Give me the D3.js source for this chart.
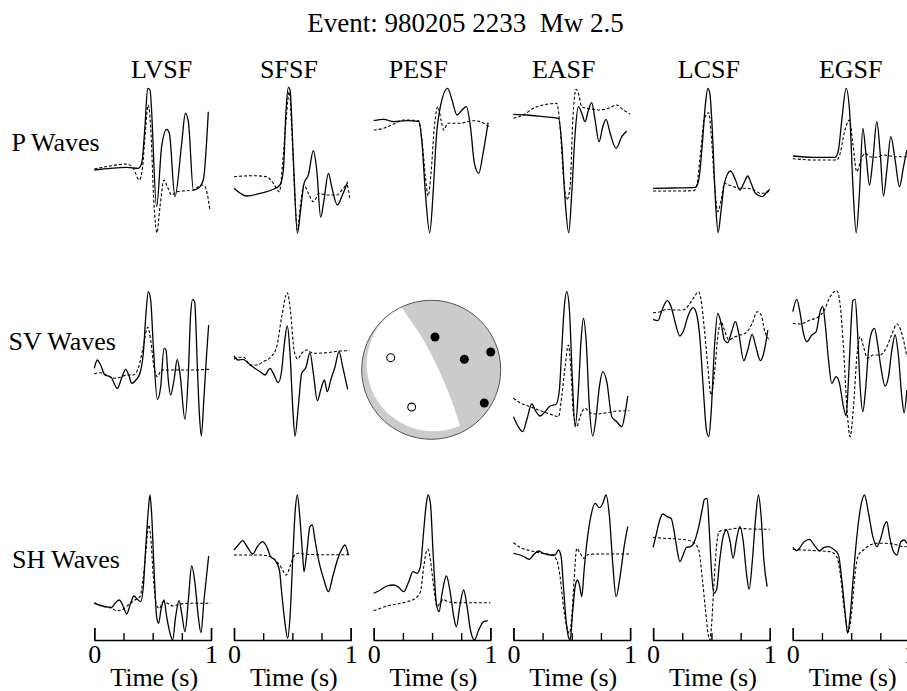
<!DOCTYPE html>
<html><head><meta charset="utf-8">
<script src="https://cdn.jsdelivr.net/npm/d3@7"></script>
<style>
body{margin:0;background:#fff}
text{font-family:"Liberation Serif","Times New Roman",serif;fill:#000}
</style>
</head><body>
<svg id="c" width="907" height="691"></svg>
<script>
// ---------- text ----------
const title = "Event: 980205 2233  Mw 2.5";
const stations = ["LVSF","SFSF","PESF","EASF","LCSF","EGSF"];
const waveRows = ["P Waves","SV Waves","SH Waves"];
const timeTicks = [0,0.25,0.5,0.75,1];
const timeLabel = "Time (s)";

const pairs = (t,a) => t.map((d,i)=>[d,a[i]]);

// ---------- P waves (obs = solid, syn = dashed) ----------
const P_LVSF_obs = pairs([0,0.277,0.377,0.406,0.434,0.457,0.477,0.534,0.577,0.62,0.643,0.691,0.749,0.78,0.806,0.849,0.891,0.934,0.977],
  [-9,-6.3,-7.3,-2.3,34.3,72.7,71,-45.7,14.3,31.7,27.7,-35.7,17.7,47.7,39.3,-29,-27.3,-19,49.3]);
const P_LVSF_syn = pairs([0,0.134,0.277,0.334,0.386,0.414,0.434,0.463,0.483,0.511,0.537,0.563,0.597,0.626,0.663,0.706,0.849,0.92,0.949,0.991],
  [-8,-5,-3,-7.3,-19,-5.7,24.3,56,34.3,-42.3,-71.7,-45.7,-19,-25.7,-34,-30.7,-29,-24,-25.7,-49]);
const P_SFSF_obs = pairs([0,0.109,0.223,0.337,0.394,0.423,0.446,0.466,0.48,0.509,0.543,0.571,0.6,0.637,0.68,0.709,0.743,0.771,0.809,0.837,0.886,0.923,0.974],
  [-27.3,-35,-32.3,-28.3,-24,-9,51,73.7,71,1,-72.3,-49,-22.3,-14,10.3,-9,-56.3,-39,-12.3,-25.7,-44,-35.7,-20.7]);
const P_SFSF_syn = pairs([0,0.166,0.28,0.337,0.389,0.417,0.446,0.474,0.494,0.523,0.543,0.571,0.6,0.637,0.68,0.731,0.794,0.88,0.937,0.966,0.994],
  [-15.7,-14.7,-15.7,-22.3,-30.7,-2.3,41,69.3,34.3,-39,-69,-42.3,-24,-32.3,-40.7,-32.3,-34,-34,-27.3,-24,-39]);
const P_PESF_obs = pairs([0,0.086,0.171,0.286,0.386,0.414,0.443,0.48,0.509,0.537,0.571,0.634,0.671,0.714,0.757,0.794,0.829,0.863,0.9,0.937,0.98],
  [40.3,41.7,39.3,40.3,39.3,17.7,-32.3,-71.7,-32.3,24.3,54.3,72.7,61,46,51,54.3,34.3,-2.3,-12.3,7.7,38.3]);
const P_PESF_syn = pairs([0,0.086,0.171,0.257,0.386,0.414,0.443,0.466,0.491,0.52,0.549,0.577,0.6,0.634,0.686,0.743,0.8,0.857,0.914,0.986],
  [31,32.7,37,41,40.3,21,-15.7,-35,-12.3,34.3,54.3,41,31,37.7,37.7,37.7,39.3,40.3,39.3,34.3]);
const P_EASF_obs = pairs([0,0.114,0.257,0.386,0.414,0.443,0.474,0.5,0.529,0.557,0.586,0.614,0.643,0.671,0.7,0.734,0.766,0.794,0.829,0.88,0.929,0.971],
  [46.7,46,44.3,42.7,17.7,-39,-71.7,-32.3,27.7,54.3,47.7,39.3,51,58.3,41,19.3,34.3,41.7,27.7,12.7,24.3,30]);
const P_EASF_syn = pairs([0,0.086,0.171,0.286,0.371,0.4,0.429,0.457,0.486,0.509,0.537,0.557,0.586,0.629,0.686,0.743,0.814,0.886,0.943,1],
  [42.7,46,52.7,56.7,57.7,34.3,-15.7,-39,-25.7,41,71.7,67.7,54.3,52.7,51.7,51,52.7,56,51,47]);
const P_LCSF_obs = pairs([0,0.177,0.363,0.391,0.42,0.449,0.469,0.486,0.506,0.534,0.557,0.583,0.611,0.663,0.706,0.743,0.777,0.811,0.84,0.877,0.934,0.977,1],
  [-27.3,-27,-26.3,-19,14.3,57.7,72.7,67.7,34.3,-39,-71.7,-49,-22.3,-10,-19,-29,-22.3,-15,-22.3,-32.3,-35.7,-30.7,-28.3]);
const P_LCSF_syn = pairs([0,0.177,0.349,0.377,0.406,0.44,0.477,0.497,0.526,0.554,0.583,0.611,0.649,0.691,0.749,0.806,0.863,0.92,0.963,1],
  [-30,-30,-29.7,-22.3,7.7,42.7,48.3,27.7,-22.3,-50.7,-39,-22.3,-24,-25.7,-27.3,-27.3,-29,-32.3,-32.3,-29]);
const P_EGSF_obs = pairs([0,0.177,0.363,0.391,0.42,0.457,0.486,0.514,0.543,0.571,0.6,0.629,0.657,0.686,0.72,0.749,0.777,0.806,0.84,0.877,0.914,0.949,0.977],
  [5,3.7,3.7,11,41,72.7,51,-22.3,-71.7,-32.3,32.7,4.3,-24,1,39.3,7.7,-35,-9,24.3,1,-25.7,-5.7,11]);
const P_EGSF_syn = pairs([0,0.177,0.377,0.406,0.44,0.486,0.514,0.549,0.583,0.62,0.663,0.72,0.777,0.834,0.891,0.977],
  [2.3,1,1,7.7,27.7,41,17.7,-10.7,1,7.7,4.3,3.7,6,5,4.3,4.3]);

// ---------- SV waves ----------
const SV_LVSF_obs = pairs([0,0.026,0.054,0.091,0.14,0.197,0.234,0.269,0.3,0.32,0.357,0.391,0.42,0.443,0.463,0.483,0.506,0.54,0.569,0.597,0.614,0.634,0.654,0.683,0.711,0.734,0.777,0.806,0.826,0.843,0.86,0.883,0.9,0.917,0.94,0.963,0.98],
  [-4.3,4,-1,-11,-12.7,-24.3,-14.3,-5.3,-12.7,-19.3,-16,-9.3,10.7,50.7,72.3,64,17.3,-35.3,-22.7,15.7,14,-16,-31,-16,4.7,-9.3,-55.3,-9.3,50.7,64.7,62.3,-2.7,-49.3,-72,-32.7,10.7,39]);
const SV_LVSF_syn = pairs([0,0.049,0.106,0.163,0.22,0.277,0.334,0.377,0.42,0.457,0.483,0.511,0.54,0.577,0.62,0.734,0.849,0.991],
  [-10,-8.7,-11,-14.3,-13.3,-11,-11,-4.3,17.3,36.7,24,-2.7,-12.7,-6,-6,-6,-6,-5.3]);
const SV_SFSF_obs = pairs([0,0.037,0.08,0.123,0.166,0.223,0.266,0.309,0.337,0.38,0.409,0.429,0.457,0.48,0.503,0.523,0.551,0.58,0.617,0.651,0.68,0.714,0.743,0.774,0.8,0.829,0.866,0.9,0.931,0.974],
  [8,4,4.7,0.7,-3.3,-7.7,-11,-4.3,-9.3,-18.7,-6,17.3,38,10.7,-42.7,-72,-42.7,-9.3,-3.3,11.3,-9.3,-36.7,-26,-16,-27.7,-16,-2.7,12.3,-2.7,-25.3]);
const SV_SFSF_syn = pairs([0,0.037,0.086,0.137,0.194,0.251,0.323,0.366,0.409,0.457,0.486,0.514,0.546,0.58,0.623,0.68,0.794,0.909,0.989],
  [4.7,6.7,6.7,-1,-1,2.3,8,17.3,47.3,71.3,50.7,14,5,10.7,14,10.7,11.3,13,13.3]);
const SV_EASF_obs = pairs([0,0.034,0.08,0.114,0.157,0.194,0.229,0.271,0.314,0.366,0.394,0.414,0.434,0.457,0.48,0.503,0.529,0.557,0.58,0.6,0.623,0.651,0.68,0.709,0.737,0.766,0.8,0.843,0.886,0.929,0.957,0.98],
  [-52.7,-61,-67.7,-56,-40,-47.7,-52,-47.7,-42,-40.3,-26,14,54,72.3,54,-9.3,-62.7,-26,24,45.7,24,-42.7,-72,-52.7,-22.7,-7.7,-17.7,-52.7,-57.7,-62.7,-49.3,-32]);
const SV_EASF_syn = pairs([0,0.057,0.143,0.229,0.314,0.386,0.414,0.443,0.471,0.491,0.514,0.543,0.571,0.614,0.657,0.714,0.8,0.886,0.994],
  [-34.3,-38.7,-42.7,-46.7,-50,-52.7,-32.7,-2.7,19,-2.7,-49.3,-62.7,-52.7,-44.3,-48.7,-50,-48.7,-47,-46.7]);
const SV_LCSF_obs = pairs([0,0.04,0.077,0.12,0.154,0.191,0.229,0.263,0.297,0.343,0.371,0.4,0.429,0.457,0.477,0.497,0.526,0.554,0.583,0.611,0.64,0.669,0.706,0.734,0.777,0.811,0.849,0.877,0.92,0.954,0.983],
  [44.7,43.3,54,63.3,57.3,40.7,28,34,47.3,56.3,50.7,27.3,-22.7,-66,-72.7,-49.3,17.3,50.7,40.7,24,21.3,30.7,42.3,30.7,3.3,14,29.7,19,3.3,14,34]);
const SV_LCSF_syn = pairs([0,0.063,0.12,0.191,0.257,0.306,0.354,0.389,0.411,0.44,0.469,0.497,0.526,0.554,0.583,0.611,0.649,0.691,0.749,0.806,0.849,0.891,0.926,0.954,0.991],
  [51.3,52.3,54.7,54,54,59,67.3,72.3,64,34,-2.7,-31,-9.3,27.3,42.3,34,24,26.7,29,32.3,40.7,52.3,49,34,24.7]);
const SV_EGSF_obs = pairs([0,0.034,0.063,0.091,0.12,0.163,0.2,0.234,0.257,0.277,0.306,0.334,0.371,0.4,0.434,0.457,0.477,0.497,0.514,0.534,0.554,0.577,0.6,0.623,0.649,0.677,0.7,0.726,0.754,0.791,0.82,0.849,0.877,0.906,0.934,0.954,0.977],
  [52.3,64.7,50.7,30.7,22.3,29,32.3,52.3,57.3,40.7,4,-19.3,-12.7,-19.3,-42.7,-52,-16,34,63.3,64.7,34,-22.7,-47.7,-26,14,32.3,35.7,20.7,-2.7,-22,-12.7,14,29,7.3,-32.7,-48.7,-26]);
const SV_EGSF_syn = pairs([0,0.063,0.149,0.22,0.263,0.32,0.377,0.406,0.434,0.463,0.491,0.52,0.549,0.577,0.606,0.64,0.691,0.749,0.806,0.863,0.891,0.934,0.977],
  [40.7,40,44,47.3,52.3,67.3,73.3,59,17.3,-42.7,-72.7,-42.7,7.3,27.3,17.3,5.7,9,9,17.3,34,40,30.7,7.3]);

// ---------- SH waves ----------
const SH_LVSF_obs = pairs([0,0.077,0.149,0.177,0.214,0.249,0.277,0.311,0.34,0.369,0.397,0.42,0.443,0.463,0.477,0.491,0.511,0.534,0.551,0.571,0.597,0.62,0.649,0.671,0.697,0.726,0.749,0.777,0.806,0.834,0.863,0.891,0.914,0.94,0.98],
  [-35.8,-38.5,-39.8,-35.8,-32.5,-39.2,-46.5,-35.8,-28.5,-31.8,-34.2,-19.2,24.2,57.5,72.5,54.2,0.8,-49.2,-55.8,-42.5,-32.5,-49.2,-65.8,-72.5,-49.2,-33.2,-45.8,-64.2,-32.5,1.5,-15.8,-49.2,-65.2,-32.5,11.5]);
const SH_LVSF_syn = pairs([0,0.077,0.149,0.191,0.234,0.291,0.349,0.391,0.42,0.443,0.466,0.483,0.506,0.529,0.557,0.591,0.626,0.677,0.734,0.82,0.906,0.997],
  [-35.2,-39.2,-40.8,-43.2,-42.5,-37.5,-32.5,-29.2,-9.2,17.5,42.5,30.8,-9.2,-35.8,-40.8,-34.2,-35.8,-38.5,-36.5,-35.8,-35.8,-35.8]);
const SH_SFSF_obs = pairs([0,0.037,0.074,0.109,0.16,0.2,0.246,0.28,0.314,0.351,0.389,0.409,0.437,0.46,0.48,0.503,0.523,0.543,0.566,0.589,0.6,0.623,0.651,0.671,0.694,0.731,0.771,0.809,0.846,0.886,0.923,0.951,0.98],
  [17.5,22.5,26.8,21.5,13.5,20.8,25.8,20.8,10.8,7.5,-2.5,-25.8,-55.8,-70.8,-49.2,7.5,54.2,72.5,47.5,10.8,-4.2,14.2,40.8,42.5,27.5,4.2,-12.5,-24.2,-9.2,7.5,18.2,22.5,12.5]);
const SH_SFSF_syn = pairs([0,0.109,0.223,0.309,0.366,0.409,0.446,0.48,0.509,0.551,0.623,0.737,0.851,0.994],
  [12.5,12.5,12.5,10.8,5.8,-0.8,-7.5,0.8,10.8,14.2,13.2,12.8,12.8,12.8]);
const SH_PESF_obs = pairs([0,0.057,0.114,0.171,0.214,0.257,0.3,0.337,0.371,0.4,0.429,0.451,0.466,0.486,0.509,0.537,0.56,0.586,0.623,0.657,0.686,0.709,0.737,0.771,0.8,0.829,0.863,0.9,0.943,0.977],
  [-25.8,-22.5,-18.5,-17.5,-19.8,-24.2,-14.2,-4.2,-5.8,0.8,37.5,64.2,72.5,64.2,14.2,-35.8,-44.2,-25.8,-8.5,-25.8,-49.2,-59.2,-39.2,-22.5,-39.2,-62.5,-72.5,-62.5,-54.2,-53.2]);
const SH_PESF_syn = pairs([0,0.057,0.114,0.2,0.286,0.357,0.4,0.429,0.451,0.466,0.486,0.514,0.543,0.566,0.594,0.634,0.714,0.829,1],
  [-43.2,-40.8,-38.5,-36.5,-34.2,-30.8,-24.2,0.8,15.8,18.2,7.5,-19.2,-39.2,-35.8,-31.8,-34.2,-35.2,-35.2,-35.2]);
const SH_EASF_obs = pairs([0,0.057,0.1,0.137,0.171,0.214,0.257,0.314,0.357,0.386,0.409,0.429,0.451,0.471,0.486,0.509,0.529,0.549,0.566,0.586,0.606,0.629,0.663,0.7,0.737,0.766,0.794,0.823,0.851,0.88,0.914,0.949,0.98],
  [14.2,12.5,10.2,8.2,12.5,16.5,14.2,12.5,12.5,17.5,10.8,-19.2,-52.5,-69.2,-72.5,-42.5,-19.2,-12.5,-17.5,-29.2,-2.5,24.2,50.8,64.2,59.8,64.2,72.5,50.8,4.2,-29.2,-9.2,20.8,40.8]);
const SH_EASF_syn = pairs([0,0.057,0.143,0.243,0.329,0.371,0.4,0.429,0.457,0.48,0.5,0.52,0.543,0.571,0.606,0.643,0.743,0.857,1],
  [24.8,20.2,16.8,14.2,12.5,7.5,-9.2,-39.2,-59.2,-66,-49.2,-12.5,19.2,14.2,9.2,13.2,13.5,13.5,13.5]);
const SH_LCSF_obs = pairs([0,0.029,0.057,0.083,0.12,0.154,0.183,0.206,0.229,0.257,0.286,0.32,0.354,0.391,0.42,0.44,0.463,0.48,0.5,0.52,0.543,0.571,0.6,0.629,0.657,0.686,0.714,0.743,0.771,0.8,0.823,0.851,0.877,0.903,0.926,0.949,0.977],
  [20.2,34.2,47.5,53.5,50.8,49.2,34.2,17.5,5.8,12.5,20.2,20.8,25.8,40.8,57.5,68.2,69.2,40.8,-2.5,-25.8,-22.5,7.5,30.8,37.5,27.5,9.2,27.5,40.8,27.5,-5.8,-21.8,7.5,47.5,72.5,50.8,7.5,-19.2]);
const SH_LCSF_syn = pairs([0,0.091,0.206,0.291,0.349,0.391,0.42,0.449,0.471,0.486,0.5,0.52,0.543,0.566,0.606,0.657,0.72,0.834,1],
  [30.2,29.2,28.5,27.5,24.8,17.5,-9.2,-42.5,-65.8,-72.5,-59.2,-19.2,20.8,35.8,37.5,38.2,39.2,38.5,38.2]);
const SH_EGSF_obs = pairs([0,0.034,0.063,0.097,0.143,0.183,0.229,0.269,0.306,0.349,0.391,0.42,0.449,0.469,0.491,0.514,0.543,0.577,0.614,0.649,0.686,0.72,0.749,0.791,0.806,0.829,0.857,0.891,0.926,0.954,0.977],
  [20.2,16.8,20.2,25.8,28.2,22.5,16.8,20.2,20.8,18.2,12.5,-12.5,-45.8,-65.8,-49.2,-15.8,24.2,57.5,72.5,54.2,30.8,20.8,27.5,44.2,45.8,30.8,17.5,12.5,25.8,27.5,24.2]);
const SH_EGSF_syn = pairs([0,0.091,0.206,0.32,0.377,0.406,0.434,0.463,0.477,0.506,0.534,0.563,0.606,0.663,0.72,0.777,0.863,0.92,0.977],
  [18.2,17.5,16.8,15.8,10.8,-5.8,-35.8,-59.2,-64.2,-42.5,-5.8,12.5,17.5,22.5,24.2,24.2,23.5,21.5,20.8]);

// ---------- focal mechanism (unit-circle coords, y up) ----------
const nodalCurve = [[-0.47,1.02],[-0.424,0.904],[-0.137,0.472],[0.079,0.065],[0.246,-0.319],[0.367,-0.655],[0.429,-0.871],[0.46,-1.02]];
const compressions = [[0.055,0.472],[0.477,0.151],[0.856,0.256],[0.764,-0.478]];
const dilatations = [[-0.583,0.174],[-0.281,-0.535]];

// grid of traces [row][col] -> [obs, syn]; null = beachball panel
const traceGrid = [
  [[P_LVSF_obs,P_LVSF_syn],[P_SFSF_obs,P_SFSF_syn],[P_PESF_obs,P_PESF_syn],[P_EASF_obs,P_EASF_syn],[P_LCSF_obs,P_LCSF_syn],[P_EGSF_obs,P_EGSF_syn]],
  [[SV_LVSF_obs,SV_LVSF_syn],[SV_SFSF_obs,SV_SFSF_syn],null,[SV_EASF_obs,SV_EASF_syn],[SV_LCSF_obs,SV_LCSF_syn],[SV_EGSF_obs,SV_EGSF_syn]],
  [[SH_LVSF_obs,SH_LVSF_syn],[SH_SFSF_obs,SH_SFSF_syn],[SH_PESF_obs,SH_PESF_syn],[SH_EASF_obs,SH_EASF_syn],[SH_LCSF_obs,SH_LCSF_syn],[SH_EGSF_obs,SH_EGSF_syn]]
];

// ---------- layout ----------
const colStart = 94.3, colStep = 139.7, panelW = 116.7;
const rowCenter = [161, 364, 567.5], halfH = 75;
const labelShift = [9, -3.4, -13.7, -8, -2.5, -0.4];
const rowLabelX = [11.5, 8.5, 12], rowLabelY = [151, 350, 568];
const axisY = 640;
const fs = 26;

const svg = d3.select("#c");

svg.append("text").attr("x",465.5).attr("y",32).attr("text-anchor","middle")
  .style("font-size","27px").style("white-space","pre").text(title);

const xs = stations.map((s,i)=>d3.scaleLinear().domain([0,1]).range([colStart+i*colStep, colStart+i*colStep+panelW]));
const ys = rowCenter.map(c=>d3.scaleLinear().domain([-halfH,halfH]).range([c+halfH, c-halfH]));

stations.forEach((s,i)=>{
  svg.append("text").attr("x", colStart+i*colStep+panelW/2+labelShift[i]).attr("y",78)
    .attr("text-anchor","middle").style("font-size",fs+"px").text(s);
});
waveRows.forEach((r,j)=>{
  svg.append("text").attr("x",rowLabelX[j]).attr("y",rowLabelY[j]).style("font-size",fs+"px").text(r);
});

traceGrid.forEach((row,r)=>{
  row.forEach((pair,c)=>{
    if(!pair) return;
    const line = d3.line().x(d=>xs[c](d[0])).y(d=>ys[r](d[1])).curve(d3.curveMonotoneX);
    svg.append("path").attr("d",line(pair[1])).attr("fill","none").attr("stroke","#000")
      .attr("stroke-width",1.1).attr("stroke-dasharray","3,2");
    svg.append("path").attr("d",line(pair[0])).attr("fill","none").attr("stroke","#000")
      .attr("stroke-width",1.3).attr("stroke-linejoin","round");
  });
});

// axes
xs.forEach((x,i)=>{
  const g = svg.append("g").attr("transform",`translate(0,${axisY})`)
    .call(d3.axisBottom(x).tickValues(timeTicks).tickSize(-7).tickSizeOuter(-12).tickPadding(4.5)
      .tickFormat(d=> (d===0||d===1)? d3.format("d")(d) : ""));
  g.selectAll("path,line").attr("stroke","#000").attr("stroke-width",1.4);
  g.selectAll(".tick").filter(d=>d===0||d===1).select("line").attr("y2",-12);
  g.selectAll("text").style("font-size",fs+"px").attr("fill","#000")
    .style("font-family",'"Liberation Serif","Times New Roman",serif');
  svg.append("text").attr("x", x(0.5)+1.5).attr("y",686).attr("text-anchor","middle")
    .style("font-size",fs+"px").text(timeLabel);
});

// beachball
const bbCx = 431.2, bbCy = 369.8, bbR = 69.5;
const bx = d3.scaleLinear().domain([-1,1]).range([bbCx-bbR, bbCx+bbR]);
const by = d3.scaleLinear().domain([-1,1]).range([bbCy+bbR, bbCy-bbR]);
const defs = svg.append("defs");
defs.append("clipPath").attr("id","outerClip").append("circle")
  .attr("cx",bx(0)).attr("cy",by(0)).attr("r",bx(1)-bx(0));
defs.append("clipPath").attr("id","innerClip").append("circle")
  .attr("cx",bx(0.032)).attr("cy",by(0.075)).attr("r",bx(0.96)-bx(0));
const bb = svg.append("g");
bb.append("circle").attr("cx",bx(0)).attr("cy",by(0)).attr("r",bx(1)-bx(0)).attr("fill","#cbcbcb");
const nodal = d3.line().x(d=>bx(d[0])).y(d=>by(d[1])).curve(d3.curveCatmullRom)(nodalCurve);
const closing = [[0.46,-1.4],[-1.4,-1.4],[-1.4,1.4],[-0.47,1.4]].map(d=>`L${bx(d[0])},${by(d[1])}`).join("");
bb.append("g").attr("clip-path","url(#outerClip)")
  .append("path").attr("clip-path","url(#innerClip)").attr("d",nodal+closing+"Z").attr("fill","#fff");
bb.append("circle").attr("cx",bx(0)).attr("cy",by(0)).attr("r",bx(1)-bx(0))
  .attr("fill","none").attr("stroke","#555").attr("stroke-width",1);
bb.selectAll(".comp").data(compressions).enter().append("circle")
  .attr("cx",d=>bx(d[0])).attr("cy",d=>by(d[1])).attr("r",4.5).attr("fill","#000");
bb.selectAll(".dil").data(dilatations).enter().append("circle")
  .attr("cx",d=>bx(d[0])).attr("cy",d=>by(d[1])).attr("r",3.9).attr("fill","#fff")
  .attr("stroke","#000").attr("stroke-width",1.1);
</script>
</body></html>
